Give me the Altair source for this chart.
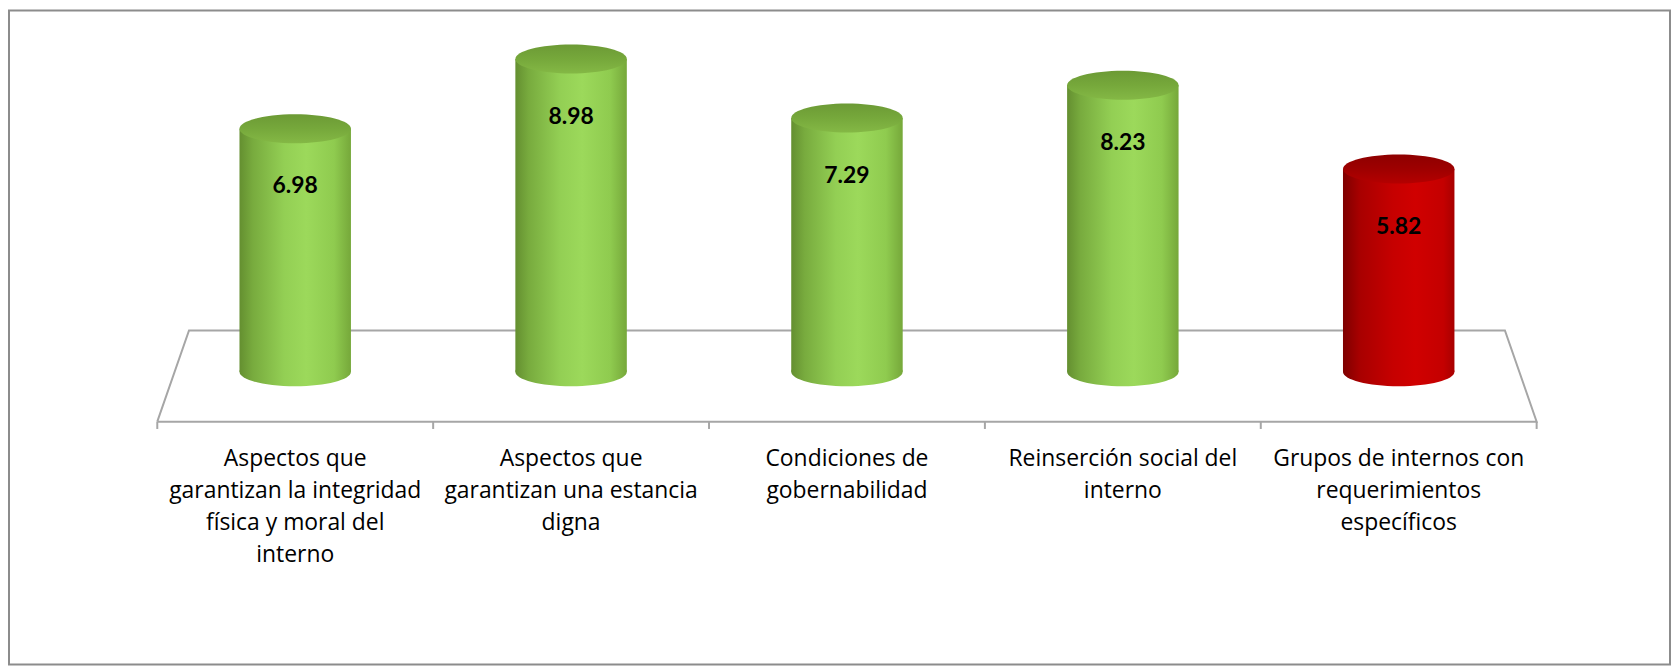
import altair as alt
import pandas as pd

# ---- data ----
categorias = [
    ["Aspectos que", "garantizan la integridad", "física y moral del", "interno"],
    ["Aspectos que", "garantizan una estancia", "digna"],
    ["Condiciones de", "gobernabilidad"],
    ["Reinserción social del", "interno"],
    ["Grupos de internos con", "requerimientos", "específicos"],
]
valores = [6.98, 8.98, 7.29, 8.23, 5.82]
grupo = ["verde", "verde", "verde", "verde", "rojo"]

df = pd.DataFrame({
    "pos": list(range(len(valores))),
    "categoria": ["\n".join(c) for c in categorias],
    "valor": valores,
    "grupo": grupo,
    "cero": [0.0] * len(valores),
})

# ---- frame geometry (3D floor), in axis units ----
FRONT_Y = -1.43
BACK_Y = 1.19
TICK_Y = -1.64
INSET = 0.115
n = len(valores)
floor = pd.DataFrame({
    "x": [-0.5, -0.5 + INSET, n - 0.5 - INSET, n - 0.5, -0.5],
    "y": [FRONT_Y, BACK_Y, BACK_Y, FRONT_Y, FRONT_Y],
    "o": [0, 1, 2, 3, 4],
})
ticks = pd.DataFrame({"x": [i - 0.5 for i in range(n + 1)],
                      "y": [FRONT_Y] * (n + 1), "y2": [TICK_Y] * (n + 1)})
df["frente"] = FRONT_Y

xs = alt.Scale(domain=[-0.5, n - 0.5], range=[144, 1540])
ys = alt.Scale(domain=[0, 10], range=[363, 13])

CYL_W = 112
k = 0.5523
ry = 0.26
ELLIPSE = (f"M -1 0 C -1 {-ry*k:.4f} {-k:.4f} {-ry} 0 {-ry} "
           f"C {k:.4f} {-ry} 1 {-ry*k:.4f} 1 0 "
           f"C 1 {ry*k:.4f} {k:.4f} {ry} 0 {ry} "
           f"C {-k:.4f} {ry} -1 {ry*k:.4f} -1 0 Z")


def grad(stops, vertical=False):
    return {
        "gradient": "linear",
        "x1": 0, "y1": 0,
        "x2": 0 if vertical else 1,
        "y2": 1 if vertical else 0,
        "stops": [{"offset": o, "color": c} for o, c in stops],
    }


estilos = {
    "verde": dict(
        body=grad([(0, "#648f30"), (0.12, "#78ab3e"), (0.4, "#93cf54"),
                   (0.6, "#9cd95b"), (0.85, "#8fcb4f"), (1, "#76a83a")]),
        top=grad([(0, "#6c9a35"), (0.5, "#76a83b"), (1, "#84b845")], True),
    ),
    "rojo": dict(
        body=grad([(0, "#7e0000"), (0.15, "#a80000"), (0.45, "#c60000"),
                   (0.65, "#d00000"), (0.9, "#c40000"), (1, "#a80000")]),
        top=grad([(0, "#8e0000"), (0.5, "#9e0000"), (1, "#b40000")], True),
    ),
}

base = alt.Chart(df)
X = alt.X("pos:Q", scale=xs, axis=None)

floor_line = alt.Chart(floor).mark_line(color="#a6a6a6", strokeWidth=2).encode(
    x=alt.X("x:Q", scale=xs, axis=None),
    y=alt.Y("y:Q", scale=ys, axis=None),
    order="o:Q",
)
tick_rules = alt.Chart(ticks).mark_rule(color="#a6a6a6", strokeWidth=2).encode(
    x=alt.X("x:Q", scale=xs, axis=None),
    y=alt.Y("y:Q", scale=ys, axis=None),
    y2="y2:Q",
)

layers = [floor_line, tick_rules]
for g, st in estilos.items():
    b = base.transform_filter(alt.datum.grupo == g)
    bottom = b.mark_point(shape=ELLIPSE, size=CYL_W ** 2, filled=True,
                          fill=st["body"], strokeWidth=0, opacity=1).encode(
        x=X, y=alt.Y("cero:Q", scale=ys, axis=None))
    body = b.mark_bar(size=CYL_W, fill=st["body"]).encode(
        x=X, y=alt.Y("valor:Q", scale=ys, axis=None), y2="cero:Q")
    top = b.mark_point(shape=ELLIPSE, size=CYL_W ** 2, filled=True,
                       fill=st["top"], strokeWidth=0, opacity=1).encode(
        x=X, y=alt.Y("valor:Q", scale=ys, axis=None))
    layers += [bottom, body, top]

etiquetas = base.mark_text(font="Lato", fontWeight="bold", fontSize=23,
                           color="black", baseline="middle", dy=58).encode(
    x=X, y=alt.Y("valor:Q", scale=ys, axis=None),
    text=alt.Text("valor:Q", format=".2f"))

cat_text = base.mark_text(font="Open Sans", fontSize=23, color="black",
                          baseline="top", align="center", lineBreak="\n",
                          lineHeight=32, dy=27).encode(
    x=X, y=alt.Y("frente:Q", scale=ys, axis=None), text="categoria:N")

layers += [etiquetas, cat_text]

chart = alt.layer(*layers).properties(
    width=1671, height=659,
    padding=1,
    autosize=alt.AutoSizeParams(type="fit", contains="padding"),
).configure_view(stroke="#8c8c8c", strokeWidth=2)

chart.save("out.html", embed_options={"renderer": "svg", "actions": False})
